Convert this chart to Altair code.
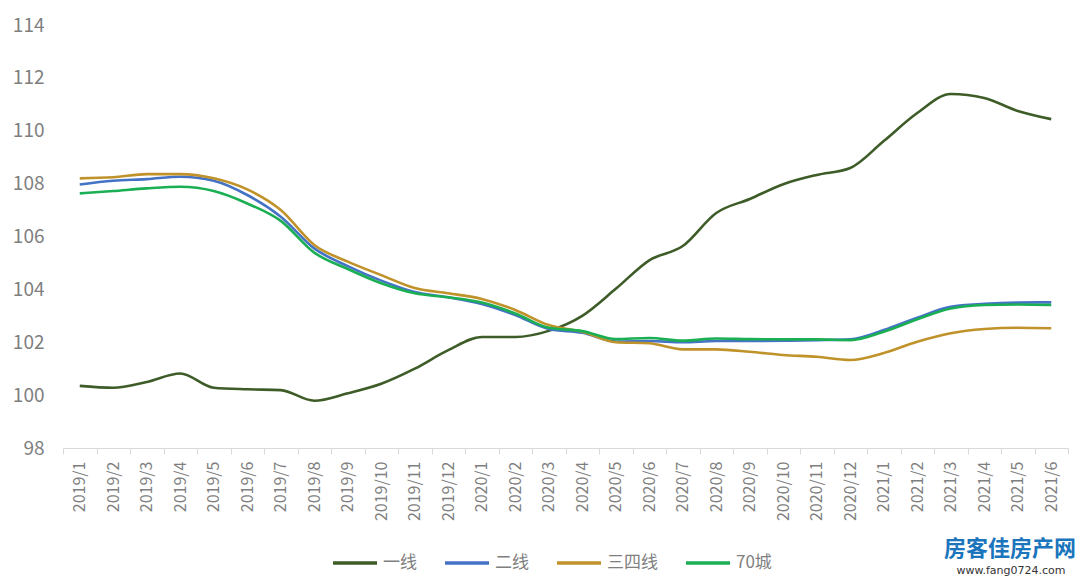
import altair as alt
import pandas as pd

months = ["2019/1", "2019/2", "2019/3", "2019/4", "2019/5", "2019/6", "2019/7", "2019/8",
          "2019/9", "2019/10", "2019/11", "2019/12", "2020/1", "2020/2", "2020/3", "2020/4",
          "2020/5", "2020/6", "2020/7", "2020/8", "2020/9", "2020/10", "2020/11", "2020/12",
          "2021/1", "2021/2", "2021/3", "2021/4", "2021/5", "2021/6"]

series_names = ["一线", "二线", "三四线", "70城"]

tier1 = [100.35, 100.28, 100.50, 100.82, 100.28, 100.22, 100.19, 99.79, 100.07, 100.43,
         101.00, 101.70, 102.20, 102.20, 102.43, 103.00, 104.02, 105.10, 105.64, 106.89,
         107.42, 107.98, 108.33, 108.59, 109.61, 110.67, 111.39, 111.24, 110.75, 110.44]
tier2 = [107.97, 108.11, 108.17, 108.26, 108.11, 107.57, 106.75, 105.55, 104.88, 104.33,
         103.90, 103.70, 103.45, 103.03, 102.50, 102.36, 102.03, 102.05, 102.00, 102.05,
         102.05, 102.06, 102.08, 102.11, 102.46, 102.93, 103.34, 103.45, 103.50, 103.51]
tier34 = [108.20, 108.24, 108.36, 108.36, 108.20, 107.78, 107.00, 105.68, 105.05, 104.54,
          104.05, 103.85, 103.64, 103.22, 102.65, 102.40, 102.00, 101.96, 101.73, 101.73,
          101.64, 101.52, 101.45, 101.33, 101.59, 102.02, 102.34, 102.50, 102.55, 102.53]
city70 = [107.63, 107.72, 107.82, 107.88, 107.72, 107.25, 106.59, 105.39, 104.77, 104.23,
          103.85, 103.70, 103.50, 103.09, 102.55, 102.42, 102.12, 102.16, 102.06, 102.14,
          102.12, 102.11, 102.11, 102.08, 102.40, 102.87, 103.28, 103.41, 103.43, 103.41]

y_ticks = [98, 100, 102, 104, 106, 108, 110, 112, 114]
colors = ["#3D5C27", "#4472C4", "#C0922A", "#1BAF54"]

wm_title = ["房客佳房产网"]
wm_url = ["www.fang0724.com"]

rows = []
for s_i, (name, vals) in enumerate(zip(series_names, [tier1, tier2, tier34, city70])):
    for i, (m, v) in enumerate(zip(months, vals)):
        rows.append({"month": m, "series": name, "value": v, "idx": i, "s": s_i})
df = pd.DataFrame(rows)

GRAY = "#7F7F7F"
FONT = "Noto Sans CJK SC"

lines = alt.Chart(df).mark_line(interpolate="monotone", strokeWidth=2.6).encode(
    x=alt.X("month:N", sort=months,
            scale=alt.Scale(type="band", paddingInner=0, paddingOuter=0),
            axis=alt.Axis(title=None, labelAngle=270, labelAlign="right",
                          labelBaseline="middle", tickBand="extent", tickSize=6,
                          tickColor="#D9D9D9", domainColor="#D9D9D9", labelPadding=7,
                          labelFontSize=16, labelColor=GRAY, labelFont=FONT)),
    y=alt.Y("value:Q", scale=alt.Scale(domain=[98, 114], nice=False, zero=False),
            axis=alt.Axis(title=None, values=y_ticks, grid=False, domain=False,
                          ticks=False, labelFontSize=19, labelColor=GRAY,
                          labelPadding=19, labelFont=FONT)),
    color=alt.Color("series:N", sort=series_names,
                    scale=alt.Scale(domain=series_names, range=colors),
                    legend=alt.Legend(orient="none", legendX=268, legendY=514,
                                      direction="horizontal", title=None,
                                      symbolType="stroke", symbolSize=1936,
                                      symbolStrokeWidth=3.5, labelFontSize=17,
                                      labelColor=GRAY, labelFont=FONT,
                                      columnPadding=21, labelOffset=4, padding=0)),
    detail="series:N",
    order="idx:Q",
)

wm1 = alt.Chart(pd.DataFrame({"t": wm_title})).mark_text(
    font=FONT, fontSize=22, fontWeight="bold", color="#1B75BC", align="center",
    baseline="middle").encode(text="t:N", x=alt.value(947), y=alt.value(524))
wm2 = alt.Chart(pd.DataFrame({"t": wm_url})).mark_text(
    font="DejaVu Sans", fontSize=11, color="#333333", align="center",
    baseline="middle").encode(text="t:N", x=alt.value(948), y=alt.value(546))

chart = alt.layer(lines, wm1, wm2).properties(
    width=1005, height=423,
    background="white",
    autosize=alt.AutoSizeParams(type="none"),
    padding={"left": 63, "top": 25, "right": 12, "bottom": 135},
).configure_view(strokeWidth=0, stroke="transparent")

chart.save("out.html", embed_options={"renderer": "svg", "actions": False})
